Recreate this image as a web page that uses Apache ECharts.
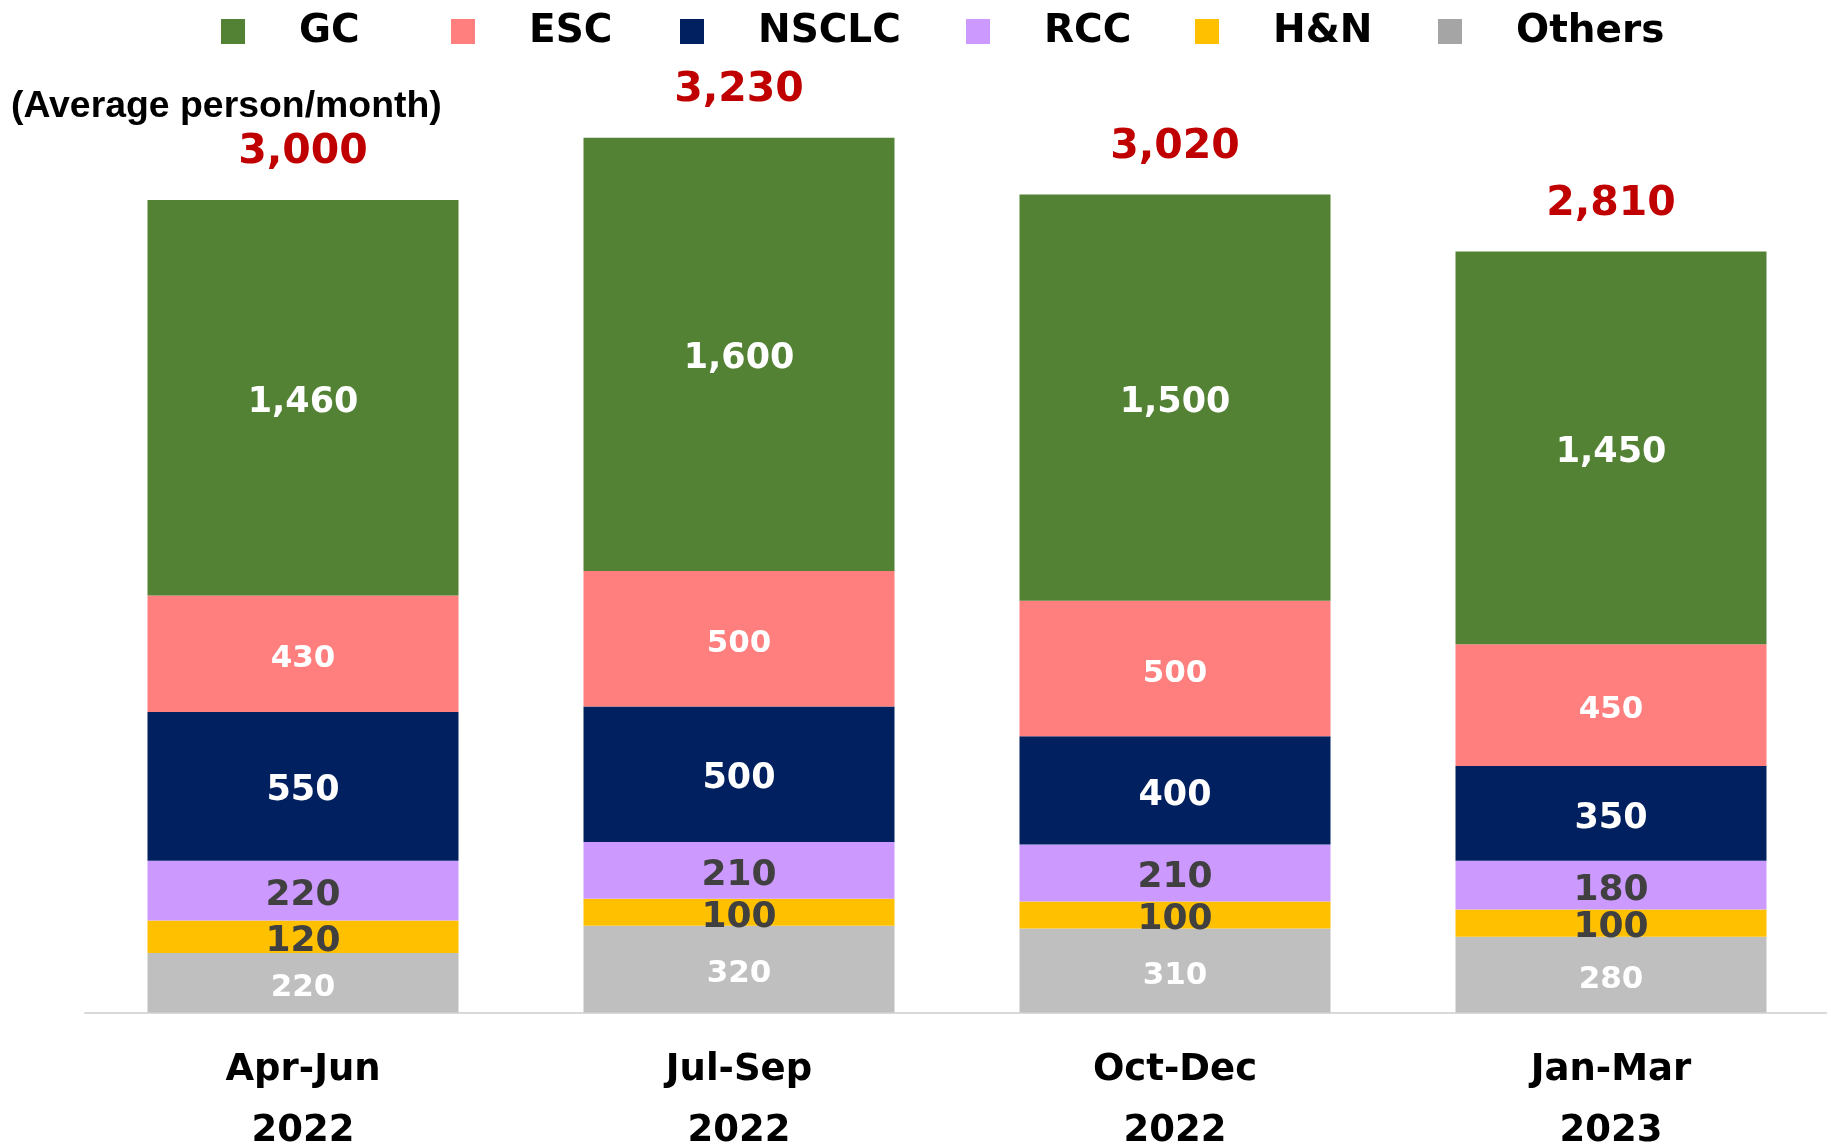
<!DOCTYPE html>
<html>
<head>
<meta charset="utf-8">
<script src="https://cdn.jsdelivr.net/npm/echarts@6/dist/echarts.min.js"></script>
<style>
html,body{margin:0;padding:0;background:#fff;}
#chart{width:1827px;height:1143px;}
</style>
</head>
<body>
<div id="chart"></div>
<script>
const categories = ['Apr-Jun\n2022', 'Jul-Sep\n2022', 'Oct-Dec\n2022', 'Jan-Mar\n2023'];
const seriesNames = ['GC', 'ESC', 'NSCLC', 'RCC', 'H&N', 'Others'];
const gc = [1460, 1600, 1500, 1450];
const esc = [430, 500, 500, 450];
const nsclc = [550, 500, 400, 350];
const rcc = [220, 210, 210, 180];
const hn = [120, 100, 100, 100];
const others = [220, 320, 310, 280];
const totals = [3000, 3230, 3020, 2810];

const colors = {
  'GC': '#548235', 'ESC': '#FF7F7F', 'NSCLC': '#002060',
  'RCC': '#CC99FF', 'H&N': '#FFC000', 'Others': '#BFBFBF'
};
const legendColors = {
  'GC': '#548235', 'ESC': '#FF7F7F', 'NSCLC': '#002060',
  'RCC': '#CC99FF', 'H&N': '#FFC000', 'Others': '#A5A5A5'
};
const labelStyle = {
  'GC': {color: '#fff', size: 35},
  'ESC': {color: '#fff', size: 31},
  'NSCLC': {color: '#fff', size: 35},
  'RCC': {color: '#404040', size: 36},
  'H&N': {color: '#404040', size: 36},
  'Others': {color: '#fff', size: 31}
};
const dataMap = {'GC': gc, 'ESC': esc, 'NSCLC': nsclc, 'RCC': rcc, 'H&N': hn, 'Others': others};
const stackOrder = ['Others', 'H&N', 'RCC', 'NSCLC', 'ESC', 'GC'];
const legendLeft = [221, 451, 680, 966, 1195, 1438];

const fmt = v => v.toLocaleString('en-US');
const FONT = '"DejaVu Sans", Verdana, sans-serif';

const chart = echarts.init(document.getElementById('chart'), null, {renderer: 'canvas'});

const series = stackOrder.map(name => ({
  name: name,
  type: 'bar',
  stack: 'total',
  barWidth: 311,
  data: dataMap[name],
  itemStyle: {color: colors[name]},
  label: {
    show: true,
    position: 'inside',
    offset: [0, 5],
    formatter: p => fmt(p.value),
    color: labelStyle[name].color,
    fontSize: labelStyle[name].size,
    fontWeight: 'bold',
    fontFamily: FONT
  },
  emphasis: {disabled: true}
}));

series.push({
  name: 'Total',
  type: 'line',
  data: totals,
  symbol: 'circle',
  symbolSize: 1,
  showSymbol: true,
  itemStyle: {color: 'rgba(0,0,0,0)'},
  lineStyle: {width: 0, opacity: 0},
  label: {
    show: true,
    position: 'top',
    distance: 25,
    formatter: p => fmt(p.value),
    color: '#C00000',
    fontSize: 41,
    lineHeight: 44,
    fontWeight: 'bold',
    fontFamily: FONT
  },
  silent: true,
  emphasis: {disabled: true}
});

const legends = seriesNames.map((name, i) => ({
  show: true,
  left: legendLeft[i],
  top: 12,
  padding: 0,
  icon: 'rect',
  itemWidth: 24,
  itemHeight: 25,
  selectedMode: false,
  data: [{name: name, itemStyle: {color: legendColors[name]}}],
  textStyle: {
    fontSize: 39,
    fontWeight: 'bold',
    fontFamily: FONT,
    color: '#000',
    lineHeight: 25,
    padding: [0, 0, 0, 49]
  }
}));

chart.setOption({
  animation: false,
  backgroundColor: '#fff',
  legend: legends,
  graphic: [{
    type: 'text',
    left: 11,
    top: 88,
    style: {
      text: '(Average person/month)',
      fontSize: 37.4,
      fontWeight: 'bold',
      fontFamily: '"Liberation Sans", Arial, sans-serif',
      fill: '#000'
    }
  }],
  grid: {left: 85, right: -2, top: 64.6, bottom: 130.5, containLabel: false, outerBoundsMode: 'none'},
  xAxis: {
    type: 'category',
    data: categories,
    axisLine: {show: true, lineStyle: {color: '#D9D9D9', width: 2}},
    axisTick: {show: false},
    axisLabel: {
      margin: 27,
      fontSize: 37,
      lineHeight: 61,
      fontWeight: 'bold',
      fontFamily: FONT,
      color: '#000'
    }
  },
  yAxis: {
    type: 'value',
    min: 0,
    max: 3500,
    show: false,
    splitLine: {show: false}
  },
  series: series
});
</script>
</body>
</html>
